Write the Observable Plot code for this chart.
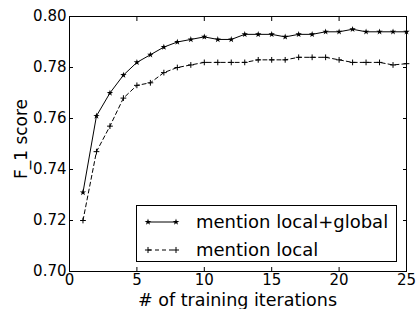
<!DOCTYPE html>
<html>
<head>
<meta charset="utf-8">
<script src="https://cdn.jsdelivr.net/npm/d3@7"></script>
<script src="https://cdn.jsdelivr.net/npm/@observablehq/plot@0.6"></script>
<style>
  html, body { margin: 0; padding: 0; background: #fff; }
  #chart svg { display: block; }
</style>
</head>
<body>
<div id="chart"></div>
<script>
const iterations = [1,2,3,4,5,6,7,8,9,10,11,12,13,14,15,16,17,18,19,20,21,22,23,24,25];
const localGlobal = [0.731,0.761,0.770,0.777,0.782,0.785,0.788,0.790,0.791,0.792,0.791,0.791,0.793,0.793,0.793,0.792,0.793,0.793,0.794,0.794,0.795,0.794,0.794,0.794,0.794];
const localOnly = [0.720,0.747,0.757,0.768,0.773,0.774,0.778,0.780,0.781,0.782,0.782,0.782,0.782,0.783,0.783,0.783,0.784,0.784,0.784,0.783,0.782,0.782,0.782,0.781,0.7815];
const seriesNames = ["mention local+global", "mention local"];
const xTicks = [0,5,10,15,20,25];
const yTicks = [0.70,0.72,0.74,0.76,0.78,0.80];
const xLabel = "# of training iterations";
const yLabel = "F_1 score";

const dataLG = iterations.map((x, i) => ({x, y: localGlobal[i]}));
const dataL = iterations.map((x, i) => ({x, y: localOnly[i]}));

const W = 418, H = 309;
const plot = Plot.plot({
  width: W, height: H,
  marginLeft: 69, marginRight: 12, marginTop: 16, marginBottom: 38,
  style: {fontFamily: "DejaVu Sans", fontSize: "15px", color: "black", background: "white"},
  x: {domain: [0, 25]},
  y: {domain: [0.70, 0.80]},
  marks: [
    Plot.axisX({anchor: "bottom", ticks: xTicks, tickSize: 0, tickPadding: 3, label: null}),
    Plot.axisY({anchor: "left", ticks: yTicks, tickSize: 0, tickPadding: 3, tickFormat: d3.format(".2f"), label: null}),
    Plot.axisX({anchor: "bottom", ticks: xTicks, tickSize: -4, text: null, label: null}),
    Plot.axisX({anchor: "top", ticks: xTicks, tickSize: -4, text: null, label: null}),
    Plot.axisY({anchor: "left", ticks: yTicks, tickSize: -4, text: null, label: null}),
    Plot.axisY({anchor: "right", ticks: yTicks, tickSize: -4, text: null, label: null}),
    Plot.line(dataL, {x: "x", y: "y", stroke: "black", strokeWidth: 1, strokeDasharray: "4,3"}),
    Plot.dot(dataL, {x: "x", y: "y", symbol: "plus", stroke: "black", strokeWidth: 1, r: 2}),
    Plot.line(dataLG, {x: "x", y: "y", stroke: "black", strokeWidth: 1}),
    Plot.dot(dataLG, {x: "x", y: "y", symbol: "star", fill: "black", stroke: "none", r: 2}),
    Plot.frame({stroke: "black", strokeWidth: 1})
  ]
});
document.getElementById("chart").appendChild(plot);

const svg = d3.select(plot);
// axis labels
svg.append("text").attr("x", 237.5).attr("y", 306)
  .attr("text-anchor", "middle").attr("font-size", 17.5).attr("font-family", "DejaVu Sans")
  .text(xLabel);
svg.append("text").attr("transform", "translate(27,139) rotate(-90)")
  .attr("text-anchor", "middle").attr("font-size", 17).attr("font-family", "DejaVu Sans")
  .text(yLabel);

// legend
const lg = svg.append("g").attr("font-family", "DejaVu Sans").attr("font-size", 18).attr("text-anchor", "start");
lg.append("rect").attr("x", 136.5).attr("y", 205.5).attr("width", 260).attr("height", 56)
  .attr("fill", "white").attr("stroke", "black");
const entries = [
  {name: seriesNames[0], y: 222, dash: null, sym: d3.symbolStar, fill: true},
  {name: seriesNames[1], y: 250, dash: "4,3", sym: d3.symbolPlus, fill: false}
];
for (const e of entries) {
  lg.append("line").attr("x1", 148).attr("x2", 176).attr("y1", e.y).attr("y2", e.y)
    .attr("stroke", "black").attr("stroke-dasharray", e.dash);
  for (const px of [148, 176]) {
    lg.append("path").attr("transform", `translate(${px},${e.y})`)
      .attr("d", d3.symbol(e.sym, e.fill ? 14 : 14)())
      .attr("fill", e.fill ? "black" : "none").attr("stroke", e.fill ? "none" : "black");
  }
  lg.append("text").attr("x", 196).attr("y", e.y).attr("dy", "0.35em").text(e.name);
}
</script>
</body>
</html>
